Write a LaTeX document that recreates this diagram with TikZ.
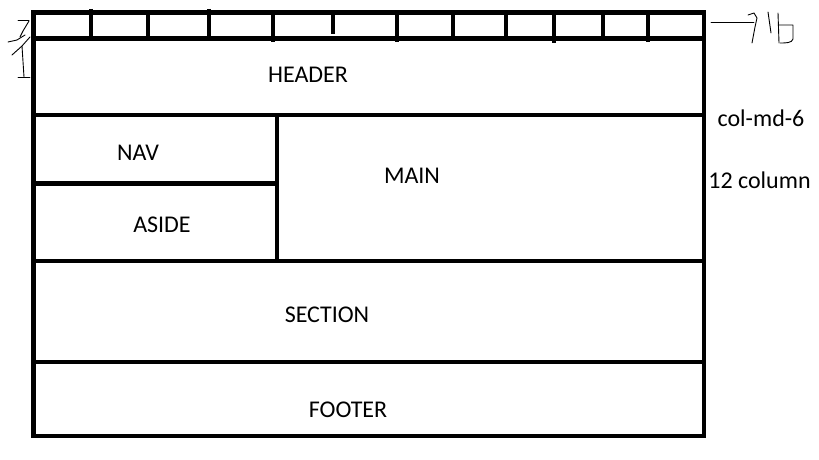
\documentclass[tikz,border=0pt]{standalone}
\usepackage{fontspec}
\setmainfont{Carlito}
\begin{document}
\begin{tikzpicture}[x=1pt,y=-1pt,
  frame/.style={line width=4.6pt},
  tickline/.style={line width=4pt},
  lbl/.style={anchor=base, inner sep=0pt, font=\fontsize{24}{29}\selectfont},
  pen/.style={line width=0.9pt, line cap=round, line join=round}]
\useasboundingbox (0,0) rectangle (819,460);
% outer frame and dividers
\draw[frame] (33.5,12.5) rectangle (704,436);
\draw[frame] (33.5,38.5) -- (704,38.5);
\draw[frame] (33.5,115) -- (704,115);
\draw[frame] (33.5,183.5) -- (277,183.5);
\draw[frame] (277,115) -- (277,261);
\draw[frame] (33.5,261) -- (704,261);
\draw[frame] (33.5,362) -- (704,362);
% column ticks
\foreach \x/\ya/\yb in {91/9/38, 148/12/38, 209/9/38, 273/12/42, 333/12/34, 397/12/42, 453/12/38, 506/12/38, 554/12/43, 603/12/41, 648/12/42}
  \draw[tickline] (\x,\ya) -- (\x,\yb);
% labels
\node[lbl] (header) at (308,82) {HEADER};
\node[lbl] (nav) at (138,160) {NAV};
\node[lbl] (aside) at (162,232) {ASIDE};
\node[lbl] (main) at (412,183) {MAIN};
\node[lbl] (section) at (327,322) {SECTION};
\node[lbl] (footer) at (348,417) {FOOTER};
\node[lbl] (colmd) at (761,126) {col-md-6};
\node[lbl] (twelve) at (759.5,188) {12 column};
% left hand-drawn mark
\draw[pen] (18,20) -- (29,20);
\draw[pen] (29,21) -- (23,31) -- (20,37);
\draw[pen] (8,42) -- (17,40) -- (25,35);
\draw[pen] (30,37) -- (22,46) -- (12,55);
\draw[pen] (22,46) -- (24,77);
\draw[pen] (18,77) -- (30,77);
% right hand-drawn mark
\draw[pen] (711,22.7) -- (754,22.7);
\draw[pen] (748,15) -- (754,13) -- (757,18) -- (755,27) -- (752,43);
\draw[pen] (768,12) -- (771,33);
\draw[pen] (778,13) -- (779,43);
\draw[pen] (779,25) -- (793,25) -- (793,39) .. controls (792,43) and (786,43) .. (780,43);
\end{tikzpicture}
\end{document}
